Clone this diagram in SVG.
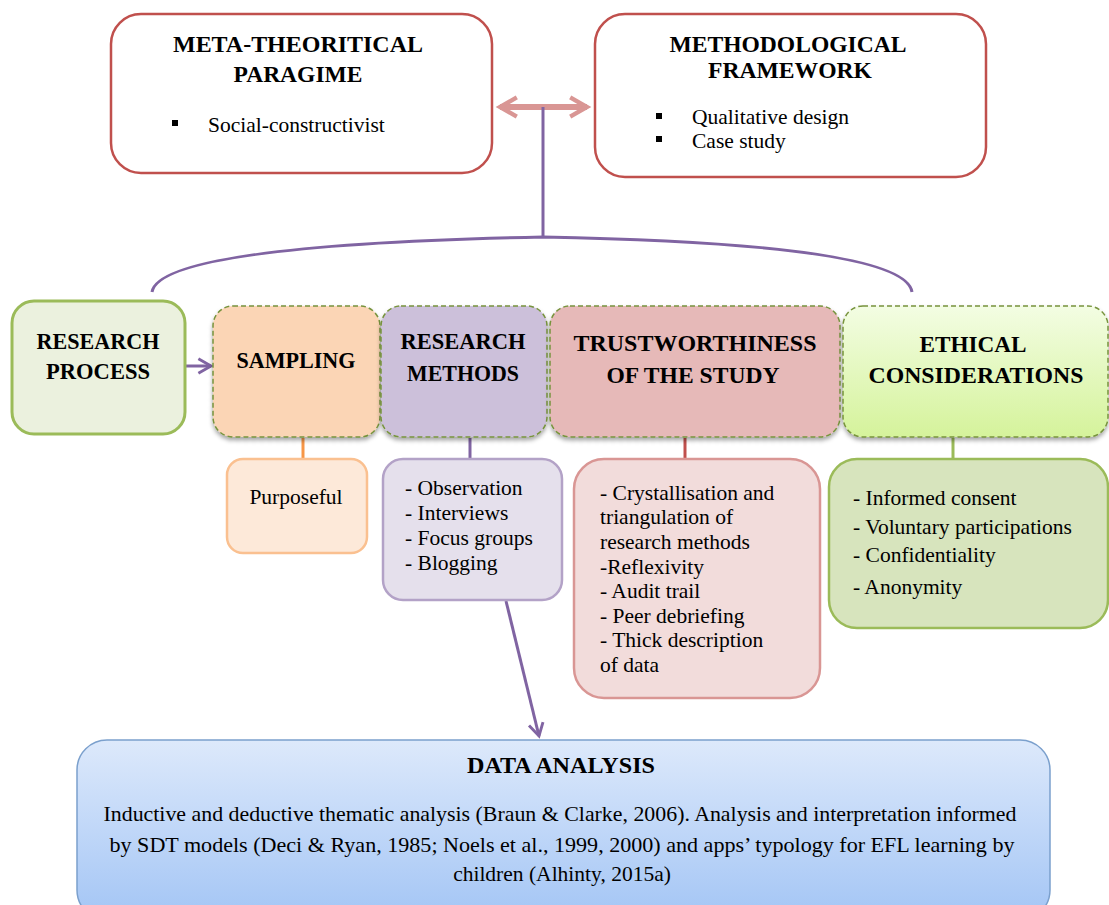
<svg xmlns="http://www.w3.org/2000/svg" width="1109" height="905" viewBox="0 0 1109 905" font-family="'Liberation Serif', 'Times New Roman', 'DejaVu Serif', serif">
<style>
.t{font-family:'Liberation Serif','Times New Roman','DejaVu Serif',serif;font-size:21.5px;fill:#000}
.b{font-weight:bold;font-size:22.5px}
.c{text-anchor:middle}
</style>
<defs>
<linearGradient id="gEth" x1="0" y1="0" x2="0" y2="1"><stop offset="0" stop-color="#f3fde3"/><stop offset="1" stop-color="#d5f39b"/></linearGradient>
<linearGradient id="gData" x1="0" y1="0" x2="0" y2="1"><stop offset="0" stop-color="#dde9fb"/><stop offset="1" stop-color="#a3c5f5"/></linearGradient>
<filter id="sh" x="-10%" y="-10%" width="120%" height="130%"><feDropShadow dx="0" dy="3" stdDeviation="2" flood-color="#000" flood-opacity="0.35"/></filter>
<marker id="pchev" viewBox="0 0 10 10" refX="8" refY="5" markerWidth="6" markerHeight="6" orient="auto" markerUnits="strokeWidth"><path d="M1,1 L8,5 L1,9" fill="none" stroke="#8064a2" stroke-width="1.6"/></marker>
<marker id="rchev" viewBox="0 0 10 10" refX="8" refY="5" markerWidth="4" markerHeight="4" orient="auto-start-reverse" markerUnits="strokeWidth"><path d="M1,1 L8,5 L1,9" fill="none" stroke="#d99694" stroke-width="1.8"/></marker>
</defs>

<g id="connectors" fill="none">
<line x1="500" y1="107" x2="587" y2="107" stroke="#d99694" stroke-width="6" marker-start="url(#rchev)" marker-end="url(#rchev)"/>
<line x1="543" y1="107" x2="543" y2="237" stroke="#8064a2" stroke-width="3"/>
<path d="M152,292 Q160,245 543,237 Q905,244 912,292" stroke="#8064a2" stroke-width="3"/>
<line x1="186" y1="366" x2="211" y2="366" stroke="#8064a2" stroke-width="3" marker-end="url(#pchev)"/>
<line x1="303" y1="438" x2="303" y2="460" stroke="#f79646" stroke-width="3"/>
<line x1="470" y1="438" x2="470" y2="460" stroke="#8064a2" stroke-width="3"/>
<line x1="685" y1="438" x2="685" y2="460" stroke="#c0504d" stroke-width="3"/>
<line x1="953" y1="438" x2="953" y2="460" stroke="#9bbb59" stroke-width="3"/>
<line x1="506" y1="601" x2="539" y2="736" stroke="#8064a2" stroke-width="3" marker-end="url(#pchev)"/>
</g>

<g id="meta">
<rect x="111" y="14" width="381" height="159" rx="30" fill="#fff" stroke="#c0504d" stroke-width="2.5"/>
<text class="t b c" x="298" y="52" textLength="250" lengthAdjust="spacingAndGlyphs">META-THEORITICAL</text>
<text class="t b c" x="298" y="82" textLength="129" lengthAdjust="spacingAndGlyphs">PARAGIME</text>
<rect x="172" y="120" width="6" height="6" fill="#000"/>
<text class="t" x="208" y="132">Social-constructivist</text>
</g>

<g id="method">
<rect x="595" y="14" width="391" height="163" rx="30" fill="#fff" stroke="#c0504d" stroke-width="2.5"/>
<text class="t b c" x="788" y="52" textLength="237" lengthAdjust="spacingAndGlyphs">METHODOLOGICAL</text>
<text class="t b c" x="790" y="78" textLength="164" lengthAdjust="spacingAndGlyphs">FRAMEWORK</text>
<rect x="656" y="113" width="6" height="6" fill="#000"/>
<text class="t" x="692" y="124">Qualitative design</text>
<rect x="656" y="136" width="6" height="6" fill="#000"/>
<text class="t" x="692" y="148">Case study</text>
</g>

<g id="process">
<rect x="12" y="301" width="173" height="133" rx="22" fill="#ebf1de" stroke="#9bbb59" stroke-width="3"/>
<text class="t b c" x="98" y="349" textLength="123" lengthAdjust="spacingAndGlyphs">RESEARCH</text>
<text class="t b c" x="98" y="379" textLength="104" lengthAdjust="spacingAndGlyphs">PROCESS</text>
</g>

<g id="sampling">
<rect x="213" y="306" width="167" height="131" rx="20" fill="#fbd5b5" stroke="#77933c" stroke-width="1.5" stroke-dasharray="5,3" filter="url(#sh)"/>
<text class="t b c" x="296" y="368" textLength="119" lengthAdjust="spacingAndGlyphs">SAMPLING</text>
</g>

<g id="methods">
<rect x="381" y="306" width="166" height="131" rx="20" fill="#ccc0da" stroke="#77933c" stroke-width="1.5" stroke-dasharray="5,3" filter="url(#sh)"/>
<text class="t b c" x="463" y="349" textLength="125" lengthAdjust="spacingAndGlyphs">RESEARCH</text>
<text class="t b c" x="463" y="381" textLength="112" lengthAdjust="spacingAndGlyphs">METHODS</text>
</g>

<g id="trust">
<rect x="550" y="306" width="290" height="131" rx="20" fill="#e6b9b8" stroke="#77933c" stroke-width="1.5" stroke-dasharray="5,3" filter="url(#sh)"/>
<text class="t b c" x="695" y="351" textLength="243" lengthAdjust="spacingAndGlyphs">TRUSTWORTHINESS</text>
<text class="t b c" x="693" y="383" textLength="173" lengthAdjust="spacingAndGlyphs">OF THE  STUDY</text>
</g>

<g id="ethical">
<rect x="843" y="306" width="265" height="131" rx="20" fill="url(#gEth)" stroke="#77933c" stroke-width="1.5" stroke-dasharray="5,3" filter="url(#sh)"/>
<text class="t b c" x="973" y="352" textLength="107" lengthAdjust="spacingAndGlyphs">ETHICAL</text>
<text class="t b c" x="976" y="383" textLength="215" lengthAdjust="spacingAndGlyphs">CONSIDERATIONS</text>
</g>

<g id="purposeful">
<rect x="227" y="459" width="140" height="94" rx="16" fill="#fde9d9" stroke="#fac090" stroke-width="2.5"/>
<text class="t c" x="296" y="504">Purposeful</text>
</g>

<g id="methodlist">
<rect x="383" y="459" width="179" height="141" rx="20" fill="#e5e0ec" stroke="#b3a2c7" stroke-width="2.5"/>
<text class="t" x="405" y="495">- Observation</text>
<text class="t" x="405" y="520">- Interviews</text>
<text class="t" x="405" y="545">- Focus groups</text>
<text class="t" x="405" y="570">- Blogging</text>
</g>

<g id="trustlist">
<rect x="574" y="459" width="246" height="239" rx="30" fill="#f2dcdb" stroke="#d99694" stroke-width="2.5"/>
<text class="t" x="600" y="500">- Crystallisation and</text>
<text class="t" x="600" y="524">triangulation  of</text>
<text class="t" x="600" y="549">research methods</text>
<text class="t" x="600" y="574">-Reflexivity</text>
<text class="t" x="600" y="598">- Audit trail</text>
<text class="t" x="600" y="623">- Peer debriefing</text>
<text class="t" x="600" y="647">- Thick description</text>
<text class="t" x="600" y="672">of data</text>
</g>

<g id="ethicslist">
<rect x="829" y="459" width="279" height="169" rx="28" fill="#d7e4bd" stroke="#9bbb59" stroke-width="2.5"/>
<text class="t" x="853" y="505">- Informed consent</text>
<text class="t" x="853" y="534">- Voluntary participations</text>
<text class="t" x="853" y="562">- Confidentiality</text>
<text class="t" x="853" y="594">- Anonymity</text>
</g>

<g id="data">
<rect x="77" y="740" width="973" height="180" rx="30" fill="url(#gData)" stroke="#7ba0cd" stroke-width="1.5"/>
<text class="t b c" x="561" y="773" textLength="188" lengthAdjust="spacingAndGlyphs">DATA ANALYSIS</text>
<text class="t c" x="560" y="821" textLength="913" lengthAdjust="spacingAndGlyphs">Inductive and deductive thematic analysis (Braun &amp; Clarke, 2006). Analysis and interpretation informed</text>
<text class="t c" x="562" y="852" textLength="905" lengthAdjust="spacingAndGlyphs">by SDT models (Deci &amp; Ryan, 1985; Noels et al., 1999, 2000) and apps’ typology for EFL learning by</text>
<text class="t c" x="562" y="881">children (Alhinty, 2015a)</text>
</g>
</svg>
